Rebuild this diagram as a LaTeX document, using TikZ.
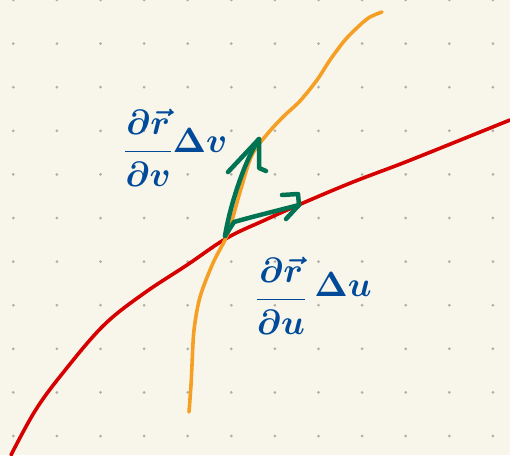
\documentclass[tikz,border=0pt]{standalone}
\usepackage{amsmath}
\definecolor{bgc}{RGB}{248,246,234}
\definecolor{dotc}{RGB}{175,175,168}
\definecolor{redc}{RGB}{214,0,0}
\definecolor{orangec}{RGB}{246,159,37}
\definecolor{greenc}{RGB}{0,115,82}
\definecolor{bluec}{RGB}{0,74,153}
\begin{document}
\begin{tikzpicture}[x=1pt,y=-1pt,
  curve/.style={line width=3.6pt,line cap=round,line join=round},
  vecline/.style={line width=4.5pt,line cap=round,line join=round,color=greenc},
  lbl/.style={text=bluec,scale=3.5,inner sep=0pt,font=\boldmath}]
\fill[bgc] (0,0) rectangle (510,455);
\useasboundingbox (0,0) rectangle (510,455);
\foreach \i in {0,...,11}
  \foreach \j in {0,...,10}
    \fill[dotc] (13.3+43.6*\i,43.6*\j) circle[radius=1.5pt];
% red curve
\draw[curve,redc] plot[smooth,tension=0.6] coordinates {(11,455) (35,411) (62,374) (103,326) (143,294) (187,265) (227,238) (265,220) (303,203) (353,182) (403,163) (453,143) (510,120)};
% orange curve
\draw[curve,orangec] plot[smooth,tension=0.5] coordinates {(189,412) (191,385) (192,365) (194,330) (200,297) (213,263) (228,233) (240,192) (252,155) (269,132) (284,116) (300,101) (317,80) (330,60) (345,40) (360,25) (370,17) (382,12)};
% green vectors
\coordinate (p0) at (225,236);
\coordinate (tv) at (259,139);
\coordinate (tu) at (299,205);
\draw[vecline] (p0) .. controls (230,205) and (245,160) .. (tv);
\draw[vecline] (228,172) -- (tv) -- (259,168) -- (266,171);
\draw[vecline] (p0) -- (234,222) .. controls (255,216) and (280,210) .. (tu);
\draw[vecline] (282,195) -- (298,194) -- (tu) -- (286,219);
% labels
\node[lbl] (fv) at (148,148) {$\displaystyle\frac{\partial\vec r}{\partial v}$};
\node[lbl] (dv) at (200,140) {$\Delta v$};
\node[lbl] (fu) at (281,296) {$\displaystyle\frac{\partial\vec r}{\partial u}$};
\node[lbl] (du) at (343,284) {$\Delta u$};
\end{tikzpicture}
\end{document}
